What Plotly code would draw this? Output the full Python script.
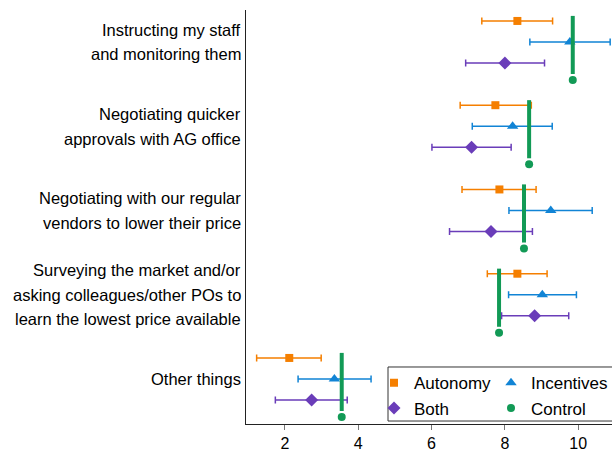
import plotly.graph_objects as go

# ---- data ----
categories = [
    ["Instructing my staff", "and monitoring them"],
    ["Negotiating quicker", "approvals with AG office"],
    ["Negotiating with our regular", "vendors to lower their price"],
    ["Surveying the market and/or", "asking colleagues/other POs to", "learn the lowest price available"],
    ["Other things"],
]
autonomy_est = [8.34, 7.74, 7.85, 8.34, 2.12]
autonomy_lo = [7.37, 6.78, 6.83, 7.52, 1.23]
autonomy_hi = [9.30, 8.72, 8.85, 9.15, 2.99]

incentives_est = [9.77, 8.21, 9.25, 9.02, 3.35]
incentives_lo = [8.68, 7.11, 8.11, 8.10, 2.36]
incentives_hi = [10.87, 9.29, 10.38, 9.95, 4.35]

both_est = [8.00, 7.09, 7.62, 8.81, 2.73]
both_lo = [6.93, 6.01, 6.49, 7.91, 1.74]
both_hi = [9.08, 8.17, 8.75, 9.74, 3.70]

control_mean = [9.85, 8.66, 8.52, 7.84, 3.55]

x_ticks = [2, 4, 6, 8, 10]

# ---- style ----
C_AUT = "#F57F00"
C_INC = "#1184D5"
C_BOTH = "#6A3DB9"
C_CTRL = "#129A56"
FONT = "Liberation Sans, Arial, Helvetica, sans-serif"

idx = list(range(len(categories)))

def err(est, lo, hi):
    return [h - e for e, h in zip(est, hi)], [e - l for e, l in zip(est, lo)]

fig = go.Figure()

def add_series(name, est, lo, hi, off, color, symbol, size, legend):
    plus, minus = err(est, lo, hi)
    fig.add_trace(go.Scatter(
        x=est, y=[i + off for i in idx], mode="markers", name=name,
        marker=dict(symbol=symbol, size=size, color=color),
        error_x=dict(type="data", symmetric=False, array=plus, arrayminus=minus,
                     color=color, thickness=1.5, width=3.5),
        legend=legend, cliponaxis=False,
    ))

add_series("Autonomy", autonomy_est, autonomy_lo, autonomy_hi, -0.25, C_AUT, "square", 8, "legend")
add_series("Incentives", incentives_est, incentives_lo, incentives_hi, 0.0, C_INC, "triangle-up", 10, "legend2")
add_series("Both", both_est, both_lo, both_hi, 0.25, C_BOTH, "diamond", 10, "legend")

# control vertical lines
lx, ly = [], []
for i, c in zip(idx, control_mean):
    lx += [c, c, None]
    ly += [i - 0.31, i + 0.38, None]
fig.add_trace(go.Scatter(x=lx, y=ly, mode="lines", line=dict(color=C_CTRL, width=4),
                         showlegend=False, hoverinfo="skip"))
fig.add_trace(go.Scatter(
    x=control_mean, y=[i + 0.45 for i in idx], mode="markers", name="Control",
    marker=dict(symbol="circle", size=8, color=C_CTRL), legend="legend2", cliponaxis=False,
))

# category labels
line_gap = 24.5
for i, lines in zip(idx, categories):
    n = len(lines)
    for k, txt in enumerate(lines):
        fig.add_annotation(
            x=0, xref="paper", y=i, yref="y", text=txt, showarrow=False,
            xanchor="right", yanchor="middle", xshift=-3,
            yshift=((n - 1) / 2 - k) * line_gap,
            font=dict(family=FONT, size=16.5, color="#000"),
        )

# legend box
fig.add_shape(type="rect", xref="paper", yref="paper",
              x0=0.388, x1=1.05, y0=0.0072, y1=0.1377,
              line=dict(color="#333", width=1), fillcolor="white", layer="below")

leg_common = dict(orientation="v", bgcolor="rgba(0,0,0,0)", borderwidth=0,
                  font=dict(family=FONT, size=17, color="#000"),
                  yanchor="top", xanchor="left", y=0.1418, tracegroupgap=0,
                  itemsizing="trace")

fig.update_layout(
    width=612, height=451,
    margin=dict(l=246, r=0, t=10, b=27, autoexpand=False),
    paper_bgcolor="white", plot_bgcolor="white",
    showlegend=True,
    legend=dict(x=(374 - 246) / 366, **leg_common),
    legend2=dict(x=(491 - 246) / 366, **leg_common),
    xaxis=dict(range=[0.94, 10.92], tickvals=x_ticks, showgrid=False, zeroline=False,
               showline=True, linecolor="#222", linewidth=1,
               ticks="outside", ticklen=5, tickcolor="#777", tickwidth=1,
               tickfont=dict(family=FONT, size=16, color="#000")),
    yaxis=dict(range=[4.534, -0.38], showgrid=False, zeroline=False, showticklabels=False,
               showline=True, linecolor="#222", linewidth=1, ticks=""),
)

fig.write_html("out.html", post_script="document.body.style.margin='0';",
               config={"displayModeBar": False})
